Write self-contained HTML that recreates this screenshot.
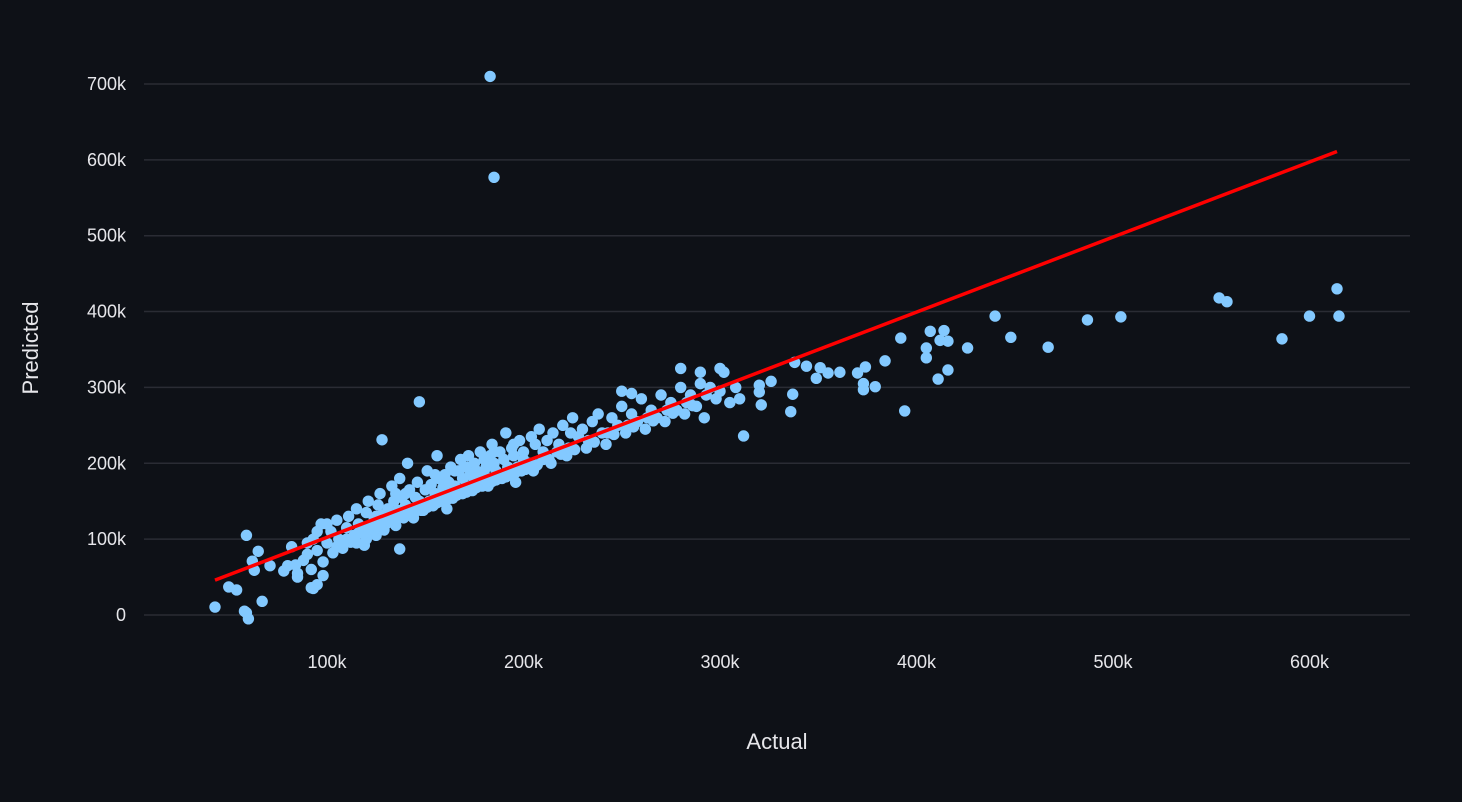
<!DOCTYPE html>
<html><head><meta charset="utf-8"><style>
html,body{margin:0;padding:0;background:#0e1117;}
svg{display:block;font-family:"Liberation Sans",sans-serif;}
</style></head><body>
<svg id="chart" width="1462" height="802" viewBox="0 0 1462 802">
<rect width="1462" height="802" fill="#0e1117"/>
<g id="grid"></g>
<g id="yticks"></g>
<g id="xticks"></g>
<g id="points"></g>
<g id="fit"></g>
<text x="777" y="749" fill="#e6e6ea" font-size="22" text-anchor="middle">Actual</text>
<text transform="translate(38,348) rotate(-90)" fill="#e6e6ea" font-size="22" text-anchor="middle">Predicted</text>
</svg>
<script>
const yTickValues=[0,100000,200000,300000,400000,500000,600000,700000];
const yTickLabels=["0","100k","200k","300k","400k","500k","600k","700k"];
const xTickValues=[100000,200000,300000,400000,500000,600000];
const xTickLabels=["100k","200k","300k","400k","500k","600k"];
const actualK=[183,185,43,50,54,58,59,60,67,59,62,65,71,63,147,128,137,92,312,336,394,600,614,615,586,554,558,504,487,467,448,440,426,416,411,414,407,405,405,412,416,392,384,379,373,373,374,370,361,355,351,349,344,338,337,326,320,320,321,
80,82,85,88,90,92,93,95,97,98,100,102,103,105,106,108,110,111,112,114,115,116,118,119,120,121,122,124,125,126,127,128,129,131,132,133,134,135,136,137,138,139,140,141,142,143,144,145,146,147,148,150,151,152,153,155,156,157,158,159,160,161,162,163,165,166,167,168,169,170,171,172,173,174,175,176,178,179,180,181,182,183,184,185,186,188,190,191,192,194,195,196,198,200,202,204,205,206,208,210,212,214,215,218,220,222,224,225,228,230,232,235,238,240,242,245,248,250,252,255,258,260,262,265,268,270,272,275,278,280,282,285,288,290,292,295,298,300,302,305,308,310,
90,95,100,105,110,115,120,125,130,135,140,145,150,155,160,165,170,175,180,185,190,195,200,95,93,98,85,78,84,280,300,290,250,255,
118,123,127,132,138,142,148,152,158,162,168,172,177,182,187,193,197,203,210,217,223,233,243,253,263,273,283,293,
112,117,122,126,131,136,141,146,151,156,161,166,171,176,181,186,191,196,201,207,213,219,226,236,246,256,266,276,286,
108,113,119,124,129,134,139,144,149,154,159,164,169,174,179,184,189,194,199,206,
116,121,126,131,136,141,146,151,156,161,166,171,176,181,186,191];
const predictedK=[710,577,10.5,37,33,5,3,-5,18,105,71,84,65,59,281,231,87,36,236,268,269,394,430,394,364,418,413,393,389,353,366,394,352,323,311,375,374,352,339,362,361,365,335,301,305,297,327,319,320,319,326,312,328,333,291,308,303,294,277,
65,90,55,72,80,60,100,85,120,70,95,110,82,125,100,88,115,130,96,105,140,120,110,92,135,150,118,128,105,145,160,132,112,140,125,170,150,118,138,180,155,130,145,200,165,140,128,155,175,150,138,165,190,148,172,160,210,180,150,168,185,140,175,195,170,158,190,205,180,165,195,210,185,172,200,190,215,180,205,195,170,210,225,200,190,215,205,240,195,220,210,175,230,215,200,235,190,225,245,215,230,200,240,225,250,210,240,260,235,245,220,255,265,240,225,260,250,275,240,265,255,285,245,270,260,290,255,280,270,300,265,290,275,305,260,300,285,295,320,280,300,285,
95,110,120,90,100,95,100,130,120,160,160,140,145,185,155,190,195,180,190,215,185,225,205,40,35,52,50,58,66,325,325,320,295,292,
115,120,125,130,135,140,145,150,155,160,165,170,175,180,185,190,195,200,205,215,220,230,240,250,260,270,280,290,
100,108,112,118,122,128,132,138,142,148,152,158,162,168,172,178,182,188,192,198,205,212,218,228,238,248,256,266,276,
95,102,108,112,118,124,128,134,138,144,150,154,160,164,170,176,180,184,190,196,
108,114,118,124,128,134,140,144,150,154,160,166,170,176,180,186];
const fitActual=[43000,614000];
const fitPredicted=[46000,611000];

const SVGNS="http://www.w3.org/2000/svg";
const xMin=144,xMax=1410;
function xScale(v){return 327+(v-100000)*0.001965;}
function yScale(v){return 615-v*0.0007586;}
function mk(tag,attrs){const e=document.createElementNS(SVGNS,tag);for(const k in attrs)e.setAttribute(k,attrs[k]);return e;}

const grid=document.getElementById('grid'),yt=document.getElementById('yticks'),xt=document.getElementById('xticks');
yTickValues.forEach((v,i)=>{
  const y=yScale(v);
  const l=mk('line',{x1:xMin,x2:xMax,y1:y,y2:y,stroke:'#2a2c34','stroke-width':1.5});
  
  
  grid.appendChild(l);
  const t=mk('text',{x:126,y:y+6,fill:'#e6e6ea','font-size':18,'text-anchor':'end'});
  t.textContent=yTickLabels[i];
  
  
  yt.appendChild(t);
});
xTickValues.forEach((v,i)=>{
  const t=mk('text',{x:xScale(v),y:668,fill:'#e6e6ea','font-size':18,'text-anchor':'middle'});
  t.textContent=xTickLabels[i];
  
  
  xt.appendChild(t);
});
const pts=document.getElementById('points');
actualK.forEach((a,i)=>{
  const c=mk('circle',{cx:xScale(a*1000),cy:yScale(predictedK[i]*1000),r:5.7,fill:'#83c9ff'});
  
  
  pts.appendChild(c);
});
const fl=mk('line',{x1:xScale(fitActual[0]),y1:yScale(fitPredicted[0]),x2:xScale(fitActual[1]),y2:yScale(fitPredicted[1]),stroke:'#ff0000','stroke-width':3.5});


document.getElementById('fit').appendChild(fl);
</script>
</body></html>
